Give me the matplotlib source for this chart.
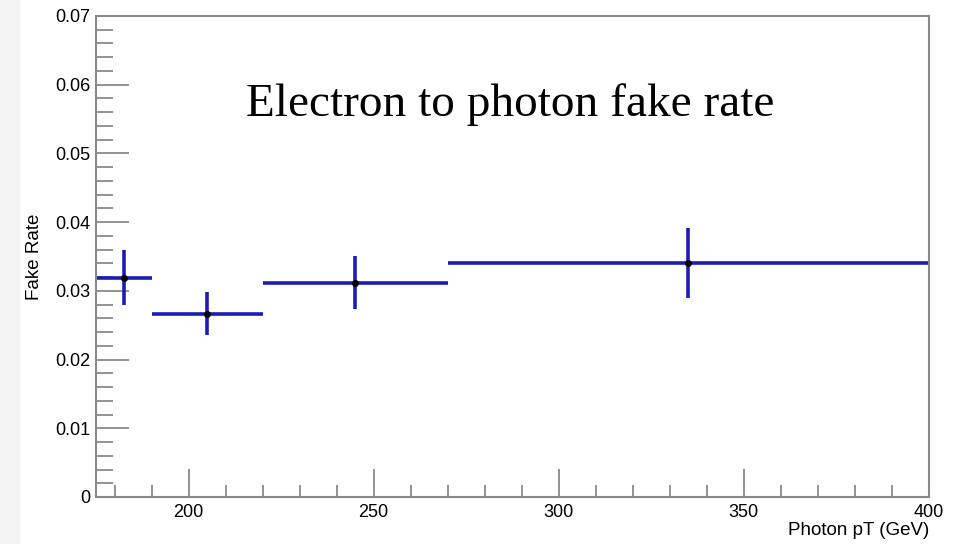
import matplotlib

matplotlib.use("Agg")
import matplotlib.pyplot as plt
from matplotlib.ticker import MultipleLocator
from matplotlib.patches import Rectangle

# photon pT bins (GeV) and measured fake rate
bin_lo = [175, 190, 220, 270]
bin_hi = [190, 220, 270, 400]
pt_center = [182.5, 205, 245, 335]
fake_rate = [0.0319, 0.0267, 0.0312, 0.0340]
rate_err = [0.0040, 0.0031, 0.0038, 0.0051]

plt.rcParams["font.family"] = ["Liberation Sans", "DejaVu Sans"]

fig = plt.figure(figsize=(9.63, 5.44), dpi=100)
# faint strip on the left edge like the slide background
fig.patches.append(Rectangle((0, 0), 0.02, 1, transform=fig.transFigure,
                             color="#f3f3f3", zorder=-10))
ax = fig.add_axes([0.0997, 0.0864, 0.865, 0.8842])

blue = "#1c1cb4"
for lo, hi, xc, y, e in zip(bin_lo, bin_hi, pt_center, fake_rate, rate_err):
    ax.plot([lo, hi], [y, y], color=blue, lw=2.6, solid_capstyle="butt")
    ax.plot([xc, xc], [y - e, y + e], color=blue, lw=2.6, solid_capstyle="butt")
ax.plot(pt_center, fake_rate, "o", color="black", ms=4, zorder=5)

ax.set_xlim(175, 400)
ax.set_ylim(0, 0.07)
ax.xaxis.set_major_locator(MultipleLocator(50))
ax.xaxis.set_minor_locator(MultipleLocator(10))
ax.yaxis.set_major_locator(MultipleLocator(0.01))
ax.yaxis.set_minor_locator(MultipleLocator(0.002))
ax.set_yticks([0, 0.01, 0.02, 0.03, 0.04, 0.05, 0.06, 0.07])
ax.set_yticklabels(["0", "0.01", "0.02", "0.03", "0.04", "0.05", "0.06", "0.07"])

for s in ax.spines.values():
    s.set_color("#8a8a8a")
    s.set_linewidth(1.5)
ax.tick_params(which="both", direction="in", color="#8a8a8a", width=1.3,
               labelsize=13, top=False, right=False)
ax.tick_params(axis="y", which="major", length=24, pad=4)
ax.tick_params(axis="y", which="minor", length=12)
ax.tick_params(axis="x", which="major", length=20, pad=5)
ax.tick_params(axis="x", which="minor", length=9)

ax.set_ylabel("Fake Rate", fontsize=13.5)
ax.yaxis.set_label_coords(-0.064, 0.5)
ax.set_xlabel("Photon pT (GeV)", fontsize=13.5, ha="right")
ax.xaxis.set_label_coords(1.0, -0.052)

ax.text(0.497, 0.815, "Electron to photon fake rate", transform=ax.transAxes,
        fontsize=34, family=["Liberation Serif", "DejaVu Serif"],
        ha="center", va="center")

fig.savefig("out.png", dpi=100)
